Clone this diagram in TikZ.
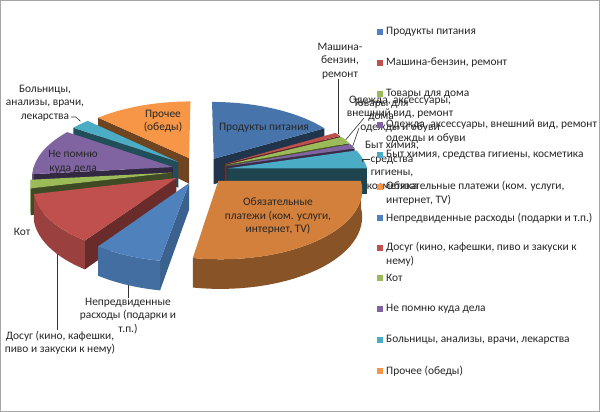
\documentclass[tikz,border=0pt]{standalone}
\usepackage{fontspec}
\setmainfont{Carlito}
\usepackage{xcolor}
\usepackage{tikz}

\definecolor{cblue}{HTML}{4F81BD}
\definecolor{cred}{HTML}{C0504D}
\definecolor{cgreen}{HTML}{9BBB59}
\definecolor{cpurple}{HTML}{8064A2}
\definecolor{cteal}{HTML}{4BACC6}
\definecolor{corange}{HTML}{F79646}

% top face, outer side and cut face of one slice: angles, mid angle, colour
\newcommand{\slicetop}[4]{\fill[#4] ({qx(0,0,#3)},{qy(0,0,#3)}) -- plot[domain=#1:#2,samples=30] ({qx(1,\x,#3)},{qy(1,\x,#3)}) -- cycle;}
\newcommand{\sliceside}[4]{\fill[#4] plot[domain=#1:#2,samples=30] ({qx(1,\x,#3)},{qy(1,\x,#3)}) -- plot[domain=#2:#1,samples=30] ({qx(1,\x,#3)},{qz(1,\x,#3)}) -- cycle;}
\newcommand{\sliceedge}[3]{\fill[#3] ({qx(0,0,#2)},{qy(0,0,#2)}) -- ({qx(1,#1,#2)},{qy(1,#1,#2)}) -- ({qx(1,#1,#2)},{qz(1,#1,#2)}) -- ({qx(0,0,#2)},{qz(0,0,#2)}) -- cycle;}

\begin{document}
\begin{tikzpicture}[x=1pt,y=-1pt,
    declare function={
      qu(\fr,\fa,\fm)=140*(\fr*sin(\fa)+0.2*sin(\fm));
      qv(\fr,\fa,\fm)=-67.8*(\fr*cos(\fa)+0.2*cos(\fm));
      qs(\fr,\fa,\fm)=1+0.12*qv(\fr,\fa,\fm)/67.8;
      qx(\fr,\fa,\fm)=200+qs(\fr,\fa,\fm)*qu(\fr,\fa,\fm);
      qy(\fr,\fa,\fm)=170.3+qs(\fr,\fa,\fm)*qv(\fr,\fa,\fm);
      qz(\fr,\fa,\fm)=170.3+qs(\fr,\fa,\fm)*(qv(\fr,\fa,\fm)+26);
    },
    lbl/.style={font=\fontsize{11.4}{13.5}\selectfont,align=center,inner sep=0pt,text=black!85},
    legtext/.style={lbl,align=left,anchor=west},
    legbox/.style={minimum size=6pt,inner sep=0pt},
    leader/.style={black!80,line width=0.6pt}]
    \useasboundingbox (0,0) rectangle (600,412);
    \fill[white] (0,0) rectangle (600,412);

    % slices, back to front
    \sliceedge{313}{336.5}{corange!45!black}
    \slicetop{313}{360}{336.5}{corange}
    \sliceedge{60}{30}{cblue!40!black}
    \slicetop{0}{60}{30}{cblue!90!black}
    \sliceedge{304}{308.5}{cteal!45!black}
    \slicetop{304}{313}{308.5}{cteal}
    \sliceedge{63.5}{61.75}{cred!45!black}
    \slicetop{60}{63.5}{61.75}{cred}
    \sliceedge{70}{66.75}{cgreen!45!black}
    \slicetop{63.5}{70}{66.75}{cgreen}
    \sliceedge{74}{72}{cpurple!45!black}
    \slicetop{70}{74}{72}{cpurple}
    \sliceedge{264}{284}{cpurple!40!black}
    \sliceside{264}{270}{284}{cpurple!70!black}
    \slicetop{264}{304}{284}{cpurple}
    \sliceedge{90}{82}{cteal!40!black}
    \slicetop{74}{90}{82}{cteal}
    \sliceedge{257}{260.5}{cgreen!40!black}
    \sliceside{257}{264}{260.5}{cgreen!75!black}
    \slicetop{257}{264}{260.5}{cgreen}
    \sliceedge{215}{236}{cred!55!black}
    \sliceside{215}{257}{236}{cred!80!black}
    \slicetop{215}{257}{236}{cred}
    \sliceside{90}{190}{140}{corange!55!black}
    \slicetop{90}{190}{140}{corange!85!black}
    \sliceedge{190}{202.5}{cblue!75!black}
    \sliceside{190}{215}{202.5}{cblue!85!black}
    \slicetop{190}{215}{202.5}{cblue}

    % labels
    \node[lbl] (prodlbl) at (264,128) {Продукты питания};
    \node[lbl] (obyazlbl) at (278,216.5) {Обязательные\\платежи (ком. услуги,\\интернет, TV)};
    \node[lbl] (prochlbl) at (163,121.5) {Прочее\\(обеды)};
    \node[lbl] (nepomnlbl) at (73,162) {Не помню\\куда дела};
    \node[lbl] (mashlbl) at (340,61) {Машина-\\бензин,\\ремонт};
    \node[lbl] (odezhlbl) at (400,114) {Одежда, аксессуары,\\внешний вид, ремонт\\одежды и обуви};
    \node[lbl] (tovlbl) at (381,110.5) {Товары для\\дома};
    \node[lbl] (bytlbl) at (392,165.5) {Быт химия,\\средства\\гигиены,\\косметика};
    \node[lbl] (bollbl) at (45,103) {Больницы,\\анализы, врачи,\\лекарства};
    \node[lbl] (kotlbl) at (22,232) {Кот};
    \node[lbl] (neprlbl) at (128,316) {Непредвиденные\\расходы (подарки и\\т.п.)};
    \node[lbl] (dosuglbl) at (60,342.5) {Досуг (кино, кафешки,\\пиво и закуски к нему)};

    % leader lines
    \coordinate (mashpt) at ({qx(1,61.75,61.75)},{qy(1,61.75,61.75)});
    \coordinate (tovpt) at ({qx(1,66.75,66.75)},{qy(1,66.75,66.75)});
    \coordinate (tovend) at (364,118);
    \coordinate (odezhpt) at ({qx(1,72,72)},{qy(1,72,72)});
    \coordinate (odezhend) at (359,128);
    \coordinate (bytpt) at ({qx(1,81,82)},{qy(1,81,82)+4});
    \coordinate (bytend) at (370,159);
    \coordinate (bolpt) at ({qx(1,308.5,308.5)},{qy(1,308.5,308.5)-3});
    \coordinate (bolend) at (71,117);
    \coordinate (neprpt) at ({qx(1,202,202.5)},{qz(1,202,202.5)});
    \coordinate (dosugpt) at ({qx(1,230,236)},{qz(1,230,236)});
    \draw[leader] (mashpt) -- (mashpt |- mashlbl.south);
    \draw[leader] (tovpt) -- (tovend);
    \draw[leader] (odezhpt) -- (odezhend);
    \draw[leader] (bytpt) -- (bytpt |- bytend) -- (bytend);
    \draw[leader] (bolend) -- ++(5,0) -- (bolpt);
    \draw[leader] (neprpt) -- (neprpt |- neprlbl.north);
    \draw[leader] (dosugpt) -- (dosugpt |- dosuglbl.north);

    % legend
    \foreach \ym/\yt/\col/\txt [count=\i] in {
        32/32/cblue/{Продукты питания},
        63/63/cred/{Машина-бензин, ремонт},
        94/94/cgreen/{Товары для дома},
        125/131.5/cpurple/{Одежда, аксессуары, внешний вид, ремонт\\одежды и обуви},
        155/155/cteal/{Быт химия, средства гигиены, косметика},
        187/193.5/corange/{Обязательные платежи (ком. услуги,\\интернет, TV)},
        218/218/cblue/{Непредвиденные расходы (подарки и т.п.)},
        248/254.5/cred/{Досуг (кино, кафешки, пиво и закуски к\\нему)},
        278/278/cgreen/{Кот},
        309/309/cpurple/{Не помню куда дела},
        340/340/cteal/{Больницы, анализы, врачи, лекарства},
        371/371/corange/{Прочее (обеды)}}{
      \node[legbox,fill=\col] (legbox\i) at (380,\ym) {};
      \node[legtext] (leg\i) at (386,\yt) {\txt};
    }

    \draw[gray!70] (0.5,0.5) rectangle (599.5,411.5);
\end{tikzpicture}
\end{document}
